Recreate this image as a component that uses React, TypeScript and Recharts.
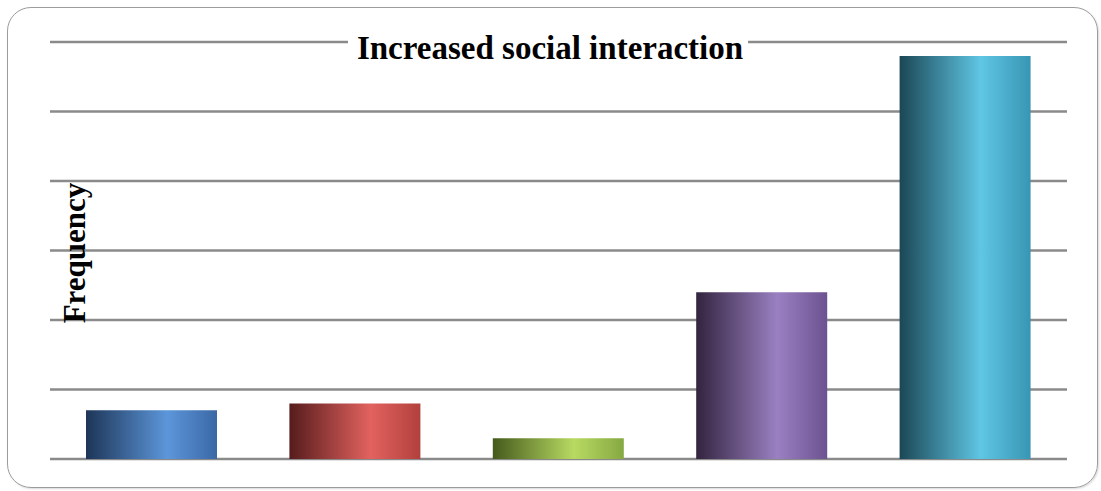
import React from 'react';
import { BarChart, Bar, XAxis, YAxis, CartesianGrid, Cell, Customized } from 'recharts';

// Response categories (unlabelled on the chart) and their frequencies
const categories = ['A', 'B', 'C', 'D', 'E'];
const frequencies = [7, 8, 3, 24, 58];
const yTicks = [0, 10, 20, 30, 40, 50, 60];

// Cylinder-style shading per bar: [dark edge, highlight, right edge]
const barShades: [string, string, string][] = [
  ['#1d3557', '#5c96da', '#3b68a6'],
  ['#561c1c', '#e2625f', '#b2403d'],
  ['#455a1c', '#b8da62', '#86a842'],
  ['#33243f', '#9a80c2', '#6c5290'],
  ['#1b4756', '#5fc6e4', '#3896b4'],
];

const data = categories.map((c, i) => ({ category: c, frequency: frequencies[i] }));

const W = 1101;
const H = 491;
const FONT = '"Liberation Serif", "Times New Roman", serif';

const Title = () => (
  <g>
    <rect x={348} y={28} width={400} height={36} fill="#ffffff" />
    <text
      x={550}
      y={59}
      textAnchor="middle"
      fontFamily={FONT}
      fontWeight="bold"
      fontSize={33}
      fill="#000"
    >
      Increased social interaction
    </text>
    <text
      transform="translate(85,253) rotate(-90)"
      textAnchor="middle"
      fontFamily={FONT}
      fontWeight="bold"
      fontSize={31}
      fill="#000"
    >
      Frequency
    </text>
  </g>
);

export default function App() {
  return (
    <div style={{ position: 'absolute', left: 0, top: 0, width: W, height: H, background: '#fff' }}>
      <div
        style={{
          position: 'absolute',
          left: 7,
          top: 7,
          width: 1089,
          height: 479,
          border: '1.5px solid #9c9c9c',
          borderRadius: 24,
          boxShadow: '1px 1px 2px rgba(0,0,0,0.15)',
        }}
      />
      <div style={{ position: 'absolute', left: 0, top: 0 }}>
        <BarChart
          width={W}
          height={H}
          data={data}
          margin={{ top: 42, right: 34, bottom: 32, left: 50 }}
          barSize={131}
        >
          <defs>
            {barShades.map((s, i) => (
              <linearGradient key={i} id={`shade-${i}`} x1="0" y1="0" x2="1" y2="0">
                <stop offset="0%" stopColor={s[0]} />
                <stop offset="62%" stopColor={s[1]} />
                <stop offset="100%" stopColor={s[2]} />
              </linearGradient>
            ))}
          </defs>
          <CartesianGrid vertical={false} stroke="#8a8a8a" strokeWidth={2.5} />
          <XAxis dataKey="category" hide />
          <YAxis hide domain={[0, 60]} ticks={yTicks} />
          <Bar dataKey="frequency" isAnimationActive={false}>
            {data.map((_, i) => (
              <Cell key={i} fill={`url(#shade-${i})`} />
            ))}
          </Bar>
          <Customized component={Title} />
        </BarChart>
      </div>
    </div>
  );
}
